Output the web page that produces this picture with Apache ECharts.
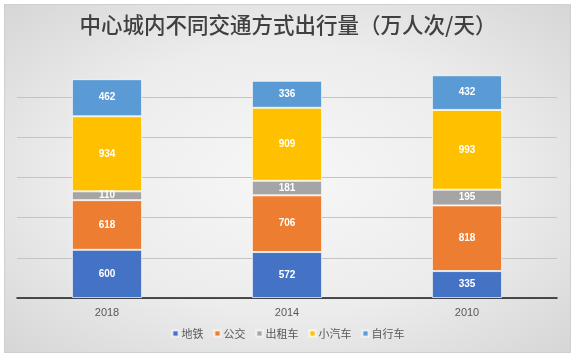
<!DOCTYPE html>
<html><head><meta charset="utf-8">
<script src="https://cdn.jsdelivr.net/npm/echarts@6/dist/echarts.min.js"></script>
<style>
html,body{margin:0;padding:0;background:#fff;}
#frame{position:absolute;left:4px;top:4px;width:567px;height:349px;
background:radial-gradient(ellipse at center,#f7f7f7 0%,#ececec 55%,#d6d6d6 100%);border:1px solid #d0d0d0;box-sizing:border-box;}
#main{position:absolute;left:0;top:0;width:576px;height:358px;}
</style></head>
<body><div id="frame"></div><div id="main"></div>
<script>
const categories = ['2018','2014','2010'];
const seriesNames = ['地铁','公交','出租车','小汽车','自行车'];
const subway = [600, 572, 335];
const bus = [618, 706, 818];
const taxi = [110, 181, 195];
const car = [934, 909, 993];
const bike = [462, 336, 432];
const colors = ['#4472C4','#ED7D31','#A5A5A5','#FFC000','#5B9BD5'];
const values = [subway, bus, taxi, car, bike];

const chart = echarts.init(document.getElementById('main'));
chart.setOption({
  backgroundColor: 'transparent',
  animation: false,
  title: {
    text: '中心城内不同交通方式出行量（万人次/天）',
    left: 'center', top: 9,
    textStyle: {fontFamily: 'Noto Sans CJK SC', fontSize: 21.5, fontWeight: 500, color: '#404040'}
  },
  legend: {
    bottom: 14, left: 'center',
    itemWidth: 6, itemHeight: 6, itemGap: 10, icon: 'rect',
    textStyle: {fontFamily: 'Noto Sans CJK SC', fontSize: 11, color: '#595959', padding: [0,0,0,-2]},
    data: seriesNames
  },
  grid: {left: 17, right: 19, top: 57, bottom: 60, containLabel: false},
  xAxis: {
    type: 'category', data: categories,
    axisLine: {lineStyle: {color: '#1a1a1a', width: 1.5}},
    axisTick: {show: false},
    axisLabel: {fontFamily: 'Liberation Sans', fontSize: 11, color: '#595959', margin: 9}
  },
  yAxis: {
    type: 'value', min: 0, max: 3000, interval: 500,
    axisLabel: {show: false}, axisLine: {show: false}, axisTick: {show: false},
    splitLine: {showMaxLine: false, lineStyle: {color: '#c4c4c4', width: 1}}
  },
  series: seriesNames.map((n, i) => ({
    name: n, type: 'bar', stack: 'total', barWidth: '39%',
    data: values[i],
    itemStyle: {color: colors[i], borderColor: 'rgba(255,255,255,0.7)', borderWidth: 1},
    label: {show: true, position: 'inside', color: '#ffffff', fontFamily: 'Liberation Sans', fontSize: 10, fontWeight: 'bold'}
  }))
});
</script></body></html>
